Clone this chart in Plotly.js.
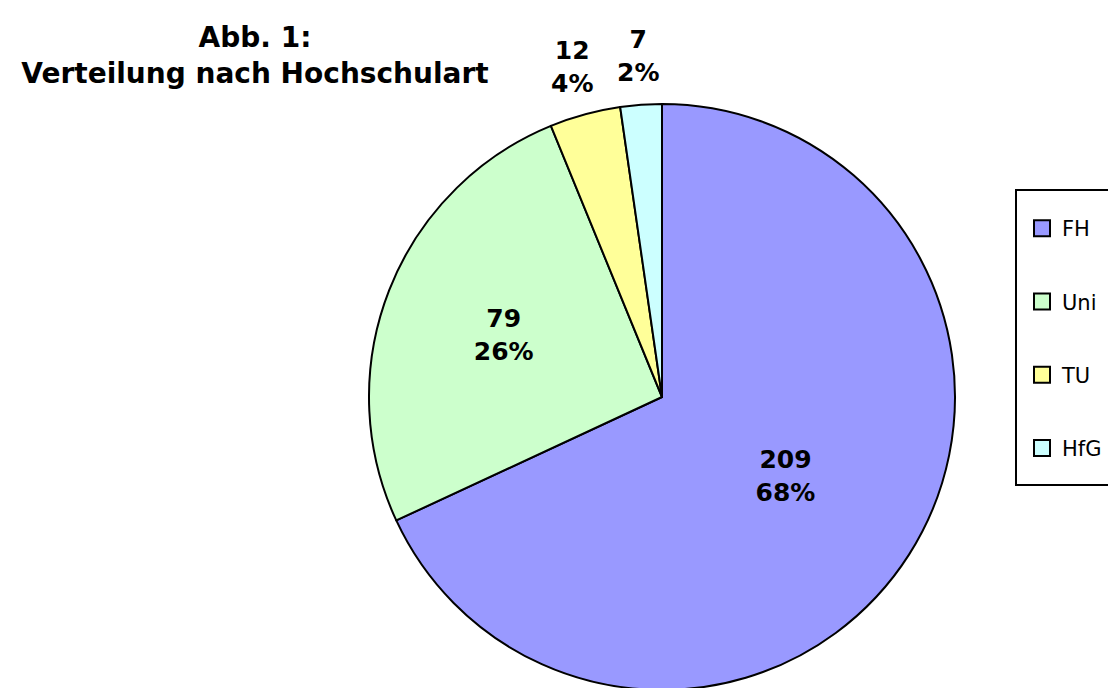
<!DOCTYPE html>
<html><head><meta charset="utf-8">
<script src="https://cdn.plot.ly/plotly-3.0.1.min.js"></script>
<style>html,body{margin:0;padding:0;overflow:hidden;background:#fff}#chart{width:1108px;height:690px}</style>
</head><body><div id="chart"></div>
<script>
const categories = ['FH', 'Uni', 'TU', 'HfG'];
const counts = [209, 79, 12, 7];
const colors = ['#9999FF', '#CCFFCC', '#FFFF99', '#CCFFFF'];
const labelPositions = ['inside', 'inside', 'none', 'none'];
const outsideLabelled = [false, false, true, true];
const titleText = 'Abb. 1:<br>Verteilung nach Hochschulart';

const W = 1108, H = 690, R = 293, CX = 662, CY = 397, TOP = 104;
const FONT = 'DejaVu Sans, Verdana, sans-serif';
const LABEL_FONT = {family: FONT, size: 25, color: '#000', weight: 'bold'};

const pie = {
  type: 'pie',
  labels: categories,
  values: counts,
  sort: false,
  direction: 'clockwise',
  rotation: 0,
  marker: {colors: colors, line: {color: '#000', width: 2}},
  texttemplate: '<b>%{value}<br>%{percent:.0%}</b>',
  textposition: labelPositions,
  insidetextorientation: 'horizontal',
  textfont: {family: FONT, size: 25, color: '#000'},
  automargin: false,
  showlegend: false,
  hoverinfo: 'label+value+percent',
  domain: {x: [(CX - R) / W, (CX + R) / W], y: [0, 1]}
};

// outside labels for the thin slices, placed along each slice's mid-angle (derived from the data)
const total = counts.reduce((a, b) => a + b, 0);
const annotations = [];
let cum = 0;
counts.forEach((v, i) => {
  const mid = (cum + v / 2) / total * 2 * Math.PI; // clockwise from 12 o'clock
  cum += v;
  if (!outsideLabelled[i]) return;
  const dist = R + 49;
  const px = CX + dist * Math.sin(mid);
  const py = CY - dist * Math.cos(mid);
  annotations.push({
    xref: 'paper', yref: 'paper',
    x: px / W, y: 1 - (py - TOP) / (H - TOP),
    xanchor: 'center', yanchor: 'middle', showarrow: false,
    text: '<b>' + v + '<br>' + Math.round(v / total * 100) + '%</b>',
    font: {family: FONT, size: 25, color: '#000'}
  });
});

const legendTraces = categories.map((c, i) => ({
  type: 'scatter', mode: 'markers', x: [null], y: [null],
  name: c, legendgroup: c,
  marker: {symbol: 'square', size: 16, color: colors[i], line: {color: '#000', width: 2}},
  showlegend: true, hoverinfo: 'skip'
}));

const layout = {
  width: W, height: H,
  margin: {l: 0, r: 0, t: TOP, b: 0, pad: 0, autoexpand: false},
  paper_bgcolor: '#fff', plot_bgcolor: 'rgba(0,0,0,0)',
  font: {family: FONT, color: '#000'},
  title: {
    text: '<b>' + titleText + '</b>',
    font: {family: FONT, size: 28, color: '#000'},
    x: 255 / W, xanchor: 'center', xref: 'container',
    y: 1 - 47 / H, yanchor: 'middle', yref: 'container'
  },
  xaxis: {visible: false, domain: [0, 0.01]},
  yaxis: {visible: false, domain: [0, 0.01]},
  showlegend: true,
  legend: {
    xref: 'container', yref: 'container',
    x: 1022 / W, xanchor: 'left', y: 1 - 208 / H, yanchor: 'top',
    font: {family: FONT, size: 21, color: '#000'},
    traceorder: 'grouped', tracegroupgap: 43,
    itemwidth: 30, bgcolor: 'rgba(0,0,0,0)', borderwidth: 0
  },
  annotations: annotations,
  shapes: [{
    type: 'rect', xref: 'paper', yref: 'paper',
    x0: 1016 / W, x1: 1.05,
    y0: 1 - (485 - TOP) / (H - TOP), y1: 1 - (190 - TOP) / (H - TOP),
    line: {color: '#000', width: 2}, fillcolor: 'rgba(0,0,0,0)'
  }]
};

Plotly.newPlot('chart', [pie].concat(legendTraces), layout, {displayModeBar: false, staticPlot: true});
</script></body></html>
